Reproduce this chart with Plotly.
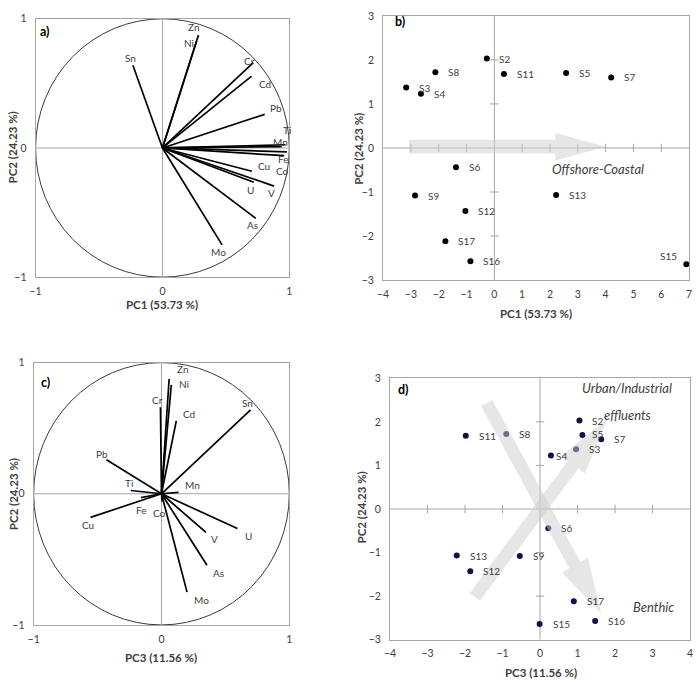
import math
import plotly.graph_objects as go

# ---------------- data ----------------
elements = ["Zn", "Ni", "Sn", "Cr", "Cd", "Pb", "Ti", "Mn", "Fe", "Co", "Cu", "U", "V", "As", "Mo"]
pc1_load = [0.284, 0.27, -0.233, 0.716, 0.703, 0.806, 0.97, 0.94, 0.98, 0.96, 0.705, 0.72, 0.88, 0.736, 0.47]
pc2_load = [0.875, 0.83, 0.64, 0.66, 0.556, 0.26, 0.025, 0.01, -0.03, -0.06, -0.18, -0.265, -0.295, -0.545, -0.75]
pc3_load = [0.06, 0.077, 0.697, -0.008, 0.116, -0.43, -0.24, 0.134, -0.16, 0.005, -0.555, 0.594, 0.348, 0.356, 0.2]

samples = ["S2", "S3", "S4", "S5", "S6", "S7", "S8", "S9", "S11", "S12", "S13", "S15", "S16", "S17"]
pc1_score = [-0.27, -3.17, -2.64, 2.58, -1.38, 4.2, -2.12, -2.85, 0.345, -1.04, 2.22, 6.9, -0.86, -1.76]
pc2_score = [2.03, 1.37, 1.23, 1.70, -0.44, 1.60, 1.72, -1.08, 1.68, -1.43, -1.07, -2.64, -2.57, -2.12]
pc3_score = [1.05, 0.96, 0.29, 1.13, 0.22, 1.63, -0.9, -0.54, -1.98, -1.86, -2.22, -0.01, 1.47, 0.9]

ticks_a = [-1, 0, 1]
ticks_b_x = list(range(-4, 8))
ticks_b_y = list(range(-3, 4))
ticks_d_x = list(range(-4, 5))
ticks_d_y = list(range(-3, 4))

xlab_12 = "PC1 (53.73 %)"
xlab_3 = "PC3 (11.56 %)"
ylab = "PC2 (24.23 %)"

# ---------------- layout geometry (pixels) ----------------
W, H = 699, 682
FONT = "Lato, 'Liberation Sans', sans-serif"
TXT = "#404040"
FRAME = "#a6a6a6"

P = {
    "a": dict(ax="", x=(30, 287), y=(13, 276), xr=(-1, 1), yr=(-1, 1)),
    "b": dict(ax="2", x=(382, 692), y=(10, 279), xr=(-4, 7), yr=(-3, 3)),
    "c": dict(ax="3", x=(28, 287), y=(363, 630), xr=(-1, 1), yr=(-1, 1)),
    "d": dict(ax="4", x=(389, 693), y=(379, 645), xr=(-4, 4), yr=(-3, 3)),
}

fig = go.Figure()
shapes = []
annotations = []


def axref(k):
    a = P[k]["ax"]
    return "x" + a, "y" + a


def axis_layout(k, tickx, ticky):
    d = P[k]
    xa = dict(domain=[d["x"][0] / W, d["x"][1] / W], range=list(d["xr"]),
              showgrid=False, zeroline=False, showline=True, mirror=True,
              linecolor=FRAME, linewidth=1, tickvals=tickx,
              ticks="outside", ticklen=4, tickcolor="rgba(0,0,0,0)",
              tickfont=dict(family=FONT, size=10.5, color=TXT), fixedrange=True)
    ya = dict(domain=[1 - d["y"][1] / H, 1 - d["y"][0] / H], range=list(d["yr"]),
              showgrid=False, zeroline=False, showline=True, mirror=True,
              linecolor=FRAME, linewidth=1, tickvals=ticky,
              ticks="outside", ticklen=6, tickcolor="rgba(0,0,0,0)",
              tickfont=dict(family=FONT, size=10.5, color=TXT), fixedrange=True)
    return xa, ya


def cross_lines(k):
    xr, yr = axref(k)
    d = P[k]
    shapes.append(dict(type="line", xref=xr, yref=yr, x0=0, x1=0, y0=d["yr"][0], y1=d["yr"][1],
                       line=dict(color=FRAME, width=1), layer="below"))
    shapes.append(dict(type="line", xref=xr, yref=yr, x0=d["xr"][0], x1=d["xr"][1], y0=0, y1=0,
                       line=dict(color=FRAME, width=1), layer="below"))


def arrow_path(k, start, tip, sw, hw, hl):
    d = P[k]
    kx = (d["x"][1] - d["x"][0]) / (d["xr"][1] - d["xr"][0])
    ky = (d["y"][1] - d["y"][0]) / (d["yr"][1] - d["yr"][0])
    sx, sy = start[0] * kx, start[1] * ky
    tx, ty = tip[0] * kx, tip[1] * ky
    L = math.hypot(tx - sx, ty - sy)
    ux, uy = (tx - sx) / L, (ty - sy) / L
    px, py = -uy, ux
    bx, by = tx - ux * hl, ty - uy * hl
    pts = [(sx + px * sw / 2, sy + py * sw / 2), (bx + px * sw / 2, by + py * sw / 2),
           (bx + px * hw / 2, by + py * hw / 2), (tx, ty),
           (bx - px * hw / 2, by - py * hw / 2), (bx - px * sw / 2, by - py * sw / 2),
           (sx - px * sw / 2, sy - py * sw / 2)]
    path = "M " + " L ".join(f"{x / kx:.4f},{y / ky:.4f}" for x, y in pts) + " Z"
    xr, yr = axref(k)
    shapes.append(dict(type="path", xref=xr, yref=yr, path=path,
                       fillcolor="rgba(205,205,205,0.5)", line=dict(width=0), layer="above"))


def loading_panel(k, xs, ys, label_shift):
    xr, yr = axref(k)
    shapes.append(dict(type="circle", xref=xr, yref=yr, x0=-1, y0=-1, x1=1, y1=1,
                       line=dict(color="#3a3a3a", width=1), layer="below"))
    cross_lines(k)
    lx, ly = [], []
    for x, y in zip(xs, ys):
        lx += [0, x, None]
        ly += [0, y, None]
    fig.add_trace(go.Scatter(x=lx, y=ly, mode="lines", line=dict(color="black", width=1.7),
                             xaxis=xr, yaxis=yr, hoverinfo="skip", showlegend=False))
    for name, x, y in zip(elements, xs, ys):
        dx, dy = label_shift.get(name, (0, 8))
        annotations.append(dict(x=x, y=y, xref=xr, yref=yr, text=name, showarrow=False,
                                xshift=dx, yshift=dy, xanchor="center", yanchor="middle",
                                font=dict(family=FONT, size=10, color=TXT)))


def score_panel(k, xs, ys, color, shifts, tickx, ticky):
    xr, yr = axref(k)
    cross_lines(k)
    tx = [v for v in tickx if v != 0 and v != P[k]["xr"][0] and v != P[k]["xr"][1]]
    ty = [v for v in ticky if v != 0 and v != P[k]["yr"][0] and v != P[k]["yr"][1]]
    fig.add_trace(go.Scatter(x=tx, y=[0] * len(tx), mode="markers", xaxis=xr, yaxis=yr,
                             marker=dict(symbol="line-ns", size=6, line=dict(color=FRAME, width=1)),
                             hoverinfo="skip", showlegend=False))
    fig.add_trace(go.Scatter(x=[0] * len(ty), y=ty, mode="markers", xaxis=xr, yaxis=yr,
                             marker=dict(symbol="line-ew", size=6, line=dict(color=FRAME, width=1)),
                             hoverinfo="skip", showlegend=False))
    fig.add_trace(go.Scatter(x=xs, y=ys, mode="markers", xaxis=xr, yaxis=yr,
                             marker=dict(color=color, size=6), hoverinfo="skip", showlegend=False))
    for name, x, y in zip(samples, xs, ys):
        dx, dy, anc = shifts.get(name, (11, 0, "left"))
        annotations.append(dict(x=x, y=y, xref=xr, yref=yr, text=name, showarrow=False,
                                xshift=dx, yshift=dy, xanchor=anc, yanchor="middle",
                                font=dict(family=FONT, size=10, color=TXT)))


# ---------------- panel a ----------------
shift_a = {"Zn": (-5, 8), "Ni": (-8, -2), "Sn": (-2, 7), "Cr": (-4, 2), "Cd": (13, -8),
           "Pb": (11, 6), "Ti": (1, 15), "Mn": (-1, 5), "Fe": (-3, -7), "Co": (-2, -15),
           "Cu": (12, 5), "U": (-3, -8), "V": (-3, -7), "As": (-3, -7), "Mo": (-4, -7)}
loading_panel("a", pc1_load, pc2_load, shift_a)

# ---------------- panel c ----------------
shift_c = {"Zn": (13, 10), "Ni": (13, 1), "Cr": (-3, 7), "Cd": (13, 7), "Sn": (-3, 7),
           "Pb": (-4, 6), "Ti": (-2, 7), "Mn": (14, 7), "Fe": (0, -12), "Co": (-3, -11),
           "Cu": (-3, -8), "V": (9, -7), "U": (11, -7), "As": (12, -8), "Mo": (14, -8)}
loading_panel("c", pc3_load, pc2_load, shift_c)

# ---------------- panel b ----------------
arrow_path("b", (-3.07, 0.03), (4.0, 0.03), 14, 28, 51)
score_panel("b", pc1_score, pc2_score, "black", {"S2": (10, 0, "left"), "S15": (-18, 8, "center")},
            ticks_b_x, ticks_b_y)
annotations.append(dict(x=3.71, y=-0.48, xref="x2", yref="y2", text="<i>Offshore-Coastal</i>",
                        showarrow=False, font=dict(family=FONT, size=13, color=TXT)))

# ---------------- panel d ----------------
score_panel("d", pc3_score, pc2_score, "#10104a", {"S5": (8, 1, "left"), "S4": (3, -1, "left")},
            ticks_d_x, ticks_d_y)
arrow_path("d", (-1.42, 2.43), (1.63, -2.40), 13, 30, 56)
arrow_path("d", (-1.74, -2.02), (1.79, 2.07), 13, 30, 58)
for txt, x, y in [("Urban/Industrial", 2.32, 2.77), ("effluents", 2.32, 2.16), ("Benthic", 3.03, -2.26)]:
    annotations.append(dict(x=x, y=y, xref="x4", yref="y4", text=f"<i>{txt}</i>", showarrow=False,
                            font=dict(family=FONT, size=13, color=TXT)))

# ---------------- panel letters & axis titles ----------------
for t, px, py in [("a)", 40, 26), ("b)", 399, 16), ("c)", 40, 383), ("d)", 403, 390)]:
    annotations.append(dict(x=px / W, y=1 - py / H, xref="paper", yref="paper", text=f"<b>{t}</b>",
                            showarrow=False, xanchor="center", yanchor="middle",
                            font=dict(family=FONT, size=12.5, color="black")))

for t, px, py in [(xlab_12, 158, 304), (xlab_12, 537, 313), (xlab_3, 157, 663), (xlab_3, 542, 678)]:
    annotations.append(dict(x=px / W, y=1 - py / H, xref="paper", yref="paper", text=f"<b>{t}</b>",
                            showarrow=False, xanchor="center", yanchor="middle",
                            font=dict(family=FONT, size=11.5, color=TXT)))
for px, py in [(7, 144), (357, 145), (7, 497), (360, 510)]:
    annotations.append(dict(x=px / W, y=1 - py / H, xref="paper", yref="paper", text=f"<b>{ylab}</b>",
                            showarrow=False, xanchor="center", yanchor="middle", textangle=-90,
                            font=dict(family=FONT, size=11.5, color=TXT)))

xa, ya = axis_layout("a", ticks_a, ticks_a)
xb, yb = axis_layout("b", ticks_b_x, ticks_b_y)
xc, yc = axis_layout("c", ticks_a, ticks_a)
xd, yd = axis_layout("d", ticks_d_x, ticks_d_y)
xb["anchor"], yb["anchor"] = "y2", "x2"
xc["anchor"], yc["anchor"] = "y3", "x3"
xd["anchor"], yd["anchor"] = "y4", "x4"

fig.update_layout(
    width=W, height=H, margin=dict(l=0, r=0, t=0, b=0),
    paper_bgcolor="white", plot_bgcolor="white",
    xaxis=xa, yaxis=ya, xaxis2=xb, yaxis2=yb, xaxis3=xc, yaxis3=yc, xaxis4=xd, yaxis4=yd,
    shapes=shapes, annotations=annotations, showlegend=False,
    font=dict(family=FONT, color=TXT),
)

fig.write_html("out.html")
